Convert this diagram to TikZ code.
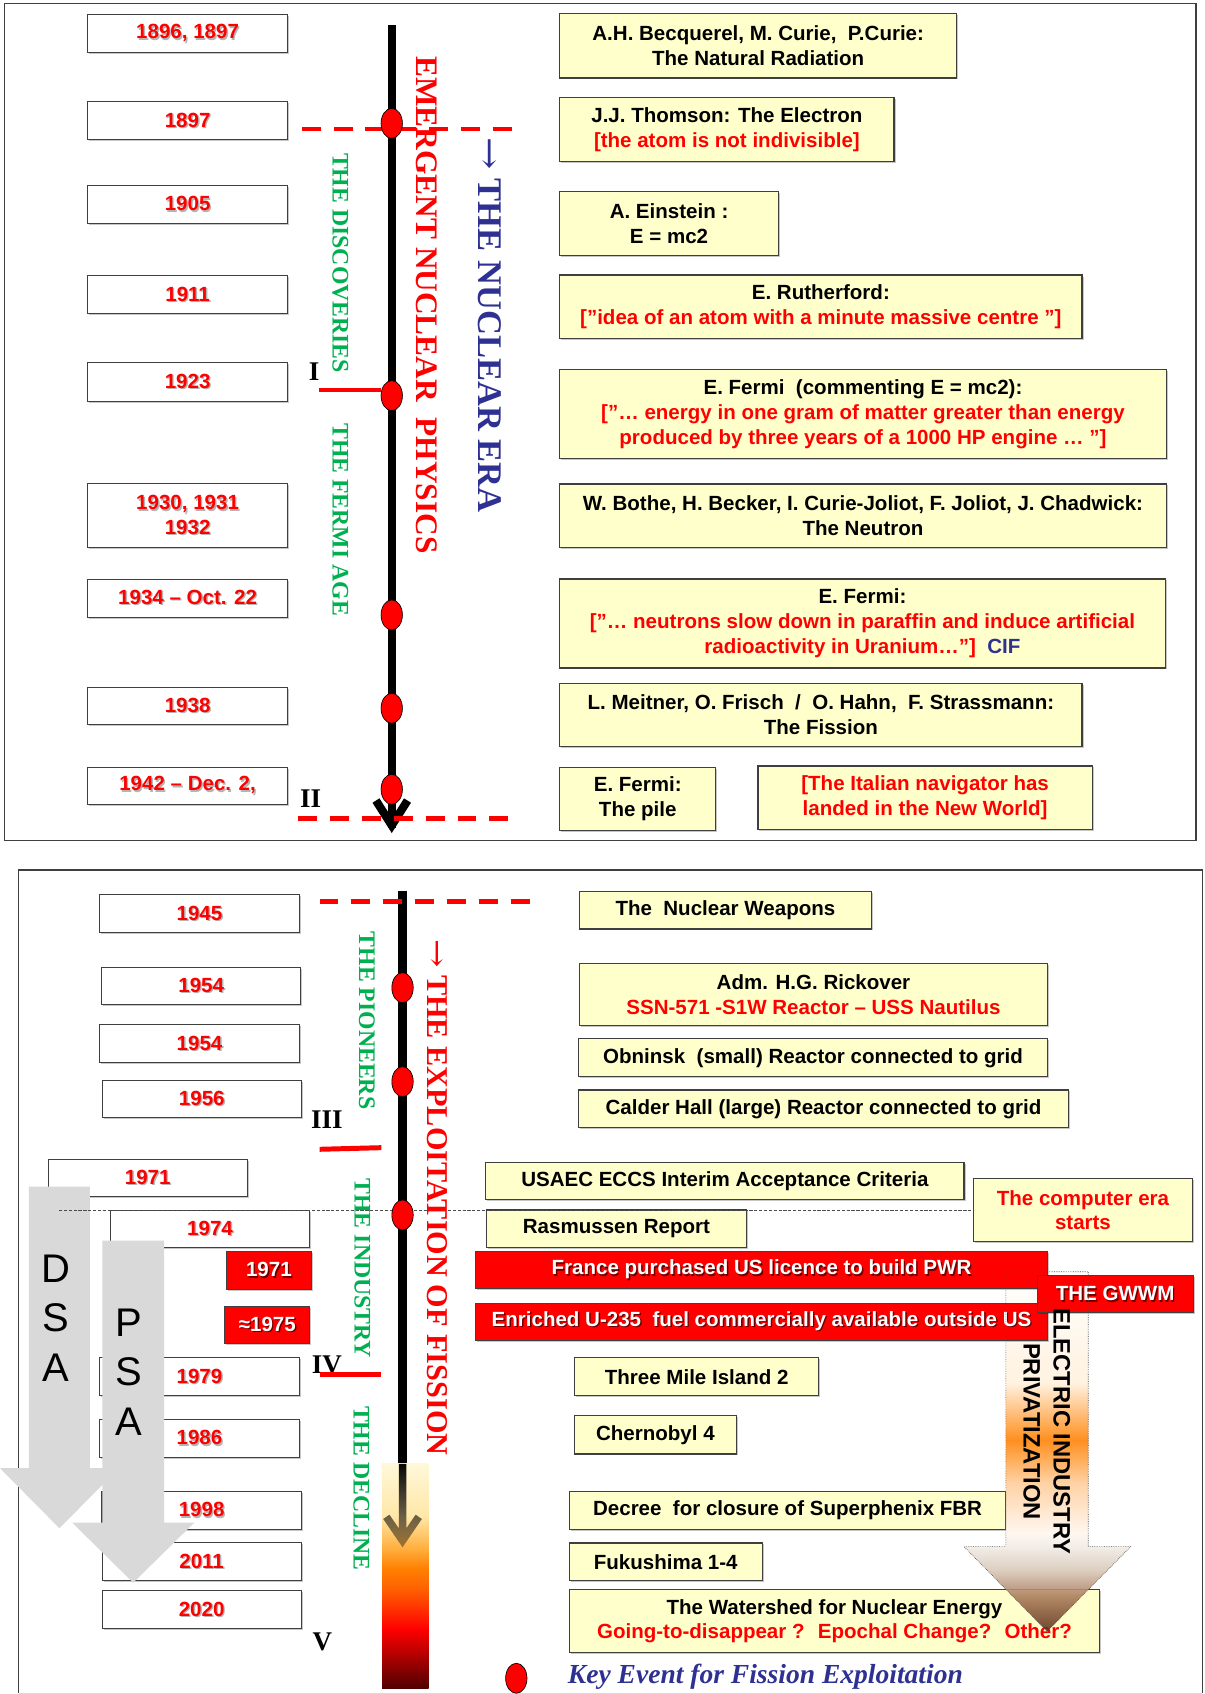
\documentclass[tikz,border=0pt]{standalone}
\usepackage{fontspec}
\setmainfont{Liberation Serif}
\newfontfamily\lsans{Liberation Sans}
\newfontfamily\lserif{Liberation Serif}
\newfontfamily\djs{DejaVu Serif}
\usetikzlibrary{shapes.geometric,fadings,shadows}
\definecolor{yfill}{HTML}{FFFFCC}
\definecolor{bgray}{HTML}{3F3F3F}
\definecolor{gtext}{HTML}{00B050}
\definecolor{navy}{HTML}{2E3192}
\definecolor{shg}{HTML}{B4B4B4}
\definecolor{rshd}{HTML}{700000}
\definecolor{pgrey}{HTML}{D9D9D9}
% bar shading colours
\definecolor{ba}{HTML}{500000}
\definecolor{bb}{HTML}{C00000}
\definecolor{bc}{HTML}{FF0000}
\definecolor{bd}{HTML}{FF2000}
\definecolor{be}{HTML}{FF6000}
\definecolor{bf}{HTML}{FF8000}
\definecolor{bg}{HTML}{FFB040}
\definecolor{bh}{HTML}{FFE7A8}
\definecolor{bi}{HTML}{FFF8D8}
% arrow shading colours
\definecolor{aa}{HTML}{5A2E18}
\definecolor{ab}{HTML}{A87858}
\definecolor{ac}{HTML}{D8C8B8}
\definecolor{ad}{HTML}{F0EAE4}
\definecolor{ae}{HTML}{FFF6EE}
\definecolor{af}{HTML}{FFCC99}
\definecolor{ag}{HTML}{FF8000}
\definecolor{ah}{HTML}{FFF0DC}
\definecolor{ai}{HTML}{FFFFFF}
\pgfdeclareverticalshading{barshade}{100bp}{color(0bp)=(ba); color(25bp)=(ba); color(33.4bp)=(bb); color(38.2bp)=(bc); color(41.1bp)=(bd); color(47.1bp)=(be); color(51.7bp)=(bf); color(56.3bp)=(bg); color(63.3bp)=(bh); color(75bp)=(bi); color(100bp)=(bi)}
\pgfdeclareverticalshading{arrshade}{100bp}{color(0bp)=(aa); color(25bp)=(aa); color(29.8bp)=(ab); color(33.56bp)=(ac); color(36.71bp)=(ad); color(38.67bp)=(ae); color(45.58bp)=(af); color(51.58bp)=(ag); color(59.54bp)=(ah); color(75bp)=(ai); color(100bp)=(ai)}
\tikzfading[name=linefade, top color=transparent!0, bottom color=transparent!62]
\newcommand{\bsf}{\lsans\bfseries\fontsize{19}{23}\selectfont}
\newcommand{\shd}[2]{\leavevmode\rlap{\hspace{1.3pt}\raisebox{-1.3pt}{\textcolor{#1}{#2}}}#2}
\newcommand{\rd}[1]{\textcolor{red}{#1}}
\newcommand{\yr}[1]{\shd{shg}{#1}}
\newcommand{\wt}[1]{\shd{rshd}{#1}}
\newcommand{\varr}{{\djs\mdseries\scalebox{1.12}[1]{→}}}
\newcommand{\tlbox}[7]{\node[#2, anchor=north west, minimum width={(#5)-(#3)}, minimum height={(#6)-(#4)}] (#1) at (#3,#4) {#7};}
\begin{document}
\begin{tikzpicture}[x=1pt,y=-1pt,
  bshadow/.style={drop shadow={shadow xshift=1.4pt, shadow yshift=-1.4pt, fill=black, opacity=0.22}},
  ybox/.style={draw=bgray, line width=1.1pt, fill=yfill, inner sep=0pt, align=center, font=\bsf, text=black, bshadow},
  wbox/.style={draw=bgray, line width=1pt, fill=white, inner sep=0pt, align=center, font=\bsf, text=red, bshadow},
  rbox/.style={draw=black!75, line width=1pt, fill=red, inner sep=0pt, align=center, font=\bsf, text=white, bshadow},
  evt/.style={ellipse, draw=black, line width=0.6pt, fill=red, minimum width=19.8pt, minimum height=27.8pt, inner sep=0pt},
  vgreen/.style={rotate=-90, text=gtext, inner sep=0pt, font=\lserif\bfseries\fontsize{22}{26}\selectfont},
  numr/.style={inner sep=0pt, font=\lserif\bfseries\fontsize{25}{30}\selectfont, text=black},
  rdash/.style={red, line width=4.6pt, dash pattern=on 17.5pt off 12pt},
  rtick/.style={red, line width=4.6pt},
  tline/.style={black, line width=7.6pt},
  frm/.style={draw=bgray, line width=1.2pt},
]
\useasboundingbox (0,0) rectangle (1114.5,1568);

% ================= TOP PANEL =================
\draw[frm] (4.3,3) rectangle (1107,778.1);

\coordinate (t1a) at (362.6,23.1);
\coordinate (t1b) at (362.6,766);
\draw[tline] (t1a) -- (t1b);
\draw[tline, line join=miter, miter limit=20] (348,741) -- (362.6,764) -- (377.2,741);

\draw[rdash] (279.3,119.4) -- (478.6,119.4);
\draw[rdash] (276,757.5) -- (474,757.5);

\tlbox{y1}{wbox}{80.3}{13.3}{266}{48.4}{\yr{1896, 1897}}
\tlbox{y2}{wbox}{80.3}{93.8}{266}{129}{\yr{1897}}
\tlbox{y3}{wbox}{80.3}{171.3}{266}{206.4}{\yr{1905}}
\tlbox{y4}{wbox}{80.3}{254.8}{266}{290}{\yr{1911}}
\tlbox{y5}{wbox}{80.3}{335.4}{266}{370.9}{\yr{1923}}
\tlbox{y6}{wbox}{80.3}{447.4}{266}{506.3}{\yr{1930, 1931}\\\yr{1932}}
\tlbox{y7}{wbox}{80.3}{535.6}{266}{570.8}{\yr{1934 – Oct. 22}}
\tlbox{y8}{wbox}{80.3}{635.6}{266}{670.4}{\yr{1938}}
\tlbox{y9}{wbox}{80.3}{709.6}{266}{744.5}{\yr{1942 – Dec. 2,}}

\tlbox{b1}{ybox}{517.5}{12.3}{885}{71.6}{A.H. Becquerel, M. Curie,~ P.Curie:\\The Natural Radiation}
\tlbox{b2}{ybox}{517.5}{89.8}{827}{148.7}{J.J. Thomson: The Electron\\\rd{[the atom is not indivisible]}}
\tlbox{b3}{ybox}{517.5}{176.8}{720}{236}{A. Einstein :\\E = mc2}
\tlbox{b4}{ybox}{517.5}{254}{1001}{313}{E. Rutherford:\\\rd{[”idea of an atom with a minute massive centre ”]}}
\tlbox{b5}{ybox}{517.5}{341.8}{1079}{424.2}{E. Fermi~ (commenting E = mc2):\\\rd{[”… energy in one gram of matter greater than energy}\\\rd{produced by three years of a 1000 HP engine … ”]}}
\tlbox{b6}{ybox}{517.5}{447.4}{1079}{506.3}{W. Bothe, H. Becker, I. Curie-Joliot, F. Joliot, J. Chadwick:\\The Neutron}
\tlbox{b7}{ybox}{517.5}{535.3}{1078}{617.7}{E. Fermi:\\\rd{[”… neutrons slow down in paraffin and induce artificial}\\\rd{radioactivity in Uranium…”]}~ \textcolor{navy}{CIF}}
\tlbox{b8}{ybox}{517.5}{631.9}{1001}{690.5}{L. Meitner, O. Frisch~ /~ O. Hahn,~ F. Strassmann:\\The Fission}
\tlbox{b9}{ybox}{517.5}{709.6}{662}{768.3}{E. Fermi:\\The pile}
\tlbox{b10}{ybox}{701}{708.4}{1010.5}{767.3}{\rd{[The Italian navigator has}\\\rd{landed in the New World]}}

\node[evt] (e1) at (362.6,114.2) {};
\node[evt] (e2) at (362.6,366.2) {};
\node[evt] (e3) at (362.6,569.2) {};
\node[evt] (e4) at (362.6,655.6) {};
\node[evt] (e5) at (362.6,730.6) {};

\coordinate (tk1) at (295.3,361);
\draw[rtick] (tk1) -- (tk1 -| e2.west);

\node[vgreen] (disc) at (315,243.5) {THE DISCOVERIES};
\node[vgreen] (fage) at (315,481) {THE FERMI AGE};
\node[rotate=-90, text=red, inner sep=0pt, font=\lserif\bfseries\fontsize{29}{34}\selectfont] (emerg) at (395,282.3) {EMERGENT NUCLEAR~ PHYSICS};
\node[rotate=-90, text=navy, inner sep=0pt, font=\lserif\bfseries\fontsize{32}{38}\selectfont] (nera) at (453.5,301) {\varr\ THE NUCLEAR ERA};

\node[numr] (r1) at (290.8,344) {I};
\node[numr] (r2) at (287.6,739) {II};

% ================= BOTTOM PANEL =================
\draw[frm] (17.2,1567) -- (17.2,805.3) -- (1113,805.3) -- (1113,1567);
\draw[black!15, line width=1pt] (17.2,1567.2) -- (1113,1567.2);

\coordinate (t2a) at (372.6,824.7);
\coordinate (t2b) at (372.6,1355);
\draw[tline] (t2a) -- (t2b);
\shade[shading=barshade] (353.7,1355) rectangle (396.7,1562.7);
\draw[line width=7pt, line join=miter, miter limit=20, path fading=linefade] (372.6,1355) -- (372.6,1424) (357.6,1404) -- (372.6,1426) -- (387.6,1404);

\draw[rdash] (295.8,834) -- (493,834);

\tlbox{z1}{wbox}{91.9}{827.8}{276.4}{862.7}{\yr{1945}}
\tlbox{z2}{wbox}{93.5}{894.7}{278}{929.3}{\yr{1954}}
\tlbox{z3}{wbox}{92}{948}{276.4}{983}{\yr{1954}}
\tlbox{z4}{wbox}{94}{999.3}{278.5}{1034}{\yr{1956}}
\tlbox{z5}{wbox}{44}{1072.4}{228.4}{1107}{\yr{1971}}
\tlbox{z6}{wbox}{101.5}{1120}{286.3}{1154.5}{\yr{1974}}
\tlbox{z7}{rbox}{209.2}{1157.9}{287.6}{1192.8}{\wt{1971}}
\tlbox{z8}{rbox}{207.6}{1208.5}{286.3}{1243.4}{\wt{≈1975}}
\tlbox{z9}{wbox}{91.9}{1256.3}{276.4}{1291.2}{\yr{1979}}
\tlbox{z10}{wbox}{91.9}{1313.7}{276.4}{1348.3}{\yr{1986}}
\tlbox{z11}{wbox}{93.9}{1380}{278.3}{1415}{\yr{1998}}
\tlbox{z12}{wbox}{94}{1427.6}{278.3}{1462.5}{\yr{2011}}
\tlbox{z13}{wbox}{94}{1472}{278.3}{1507.2}{\yr{2020}}

\tlbox{c1}{ybox}{535.8}{824.4}{806}{859.3}{The~ Nuclear Weapons}
\tlbox{c2}{ybox}{535.8}{891}{969}{949}{Adm. H.G. Rickover\\\rd{SSN-571 -S1W Reactor – USS Nautilus}}
\tlbox{c3}{ybox}{535}{961}{969}{996.2}{Obninsk~ (small) Reactor connected to grid}
\tlbox{c4}{ybox}{535}{1008.3}{988.4}{1043.4}{Calder Hall (large) Reactor connected to grid}
\tlbox{c5}{ybox}{449}{1075.6}{891.8}{1110}{USAEC ECCS Interim Acceptance Criteria}
\tlbox{c6}{ybox}{449.9}{1119.4}{690.2}{1154.5}{Rasmussen Report}
\tlbox{c7}{ybox}{900.6}{1090.6}{1103.1}{1148.7}{\rd{The computer era}\\\rd{starts}}
\tlbox{c10}{ybox}{531.3}{1256.3}{757.4}{1291.2}{Three Mile Island 2}
\tlbox{c11}{ybox}{531.3}{1310}{680.9}{1345.2}{Chernobyl 4}
\tlbox{c12}{ybox}{526.4}{1379.8}{930.5}{1415}{Decree~ for closure of Superphenix FBR}
\tlbox{c13}{ybox}{526.4}{1427.6}{704.9}{1462.7}{Fukushima 1-4}
\tlbox{c14}{ybox}{526.4}{1471}{1017.3}{1529.1}{The Watershed for Nuclear Energy\\\rd{Going-to-disappear ?~ Epochal Change?~ Other?}}

% big privatization arrow
\shade[shading=arrshade, opacity=0.88] (931,1177.1) -- (1007.3,1177.1) -- (1007.3,1431.6) -- (1046.5,1431.6) -- (969.2,1510) -- (892.3,1431.6) -- (931,1431.6) -- cycle;

\tlbox{c8}{rbox}{439.7}{1157.6}{969}{1192.5}{\wt{France purchased US licence to build PWR}}
\tlbox{c9}{rbox}{439.7}{1205.7}{969}{1240.3}{\wt{Enriched U-235~ fuel commercially available outside US}}
\tlbox{gw}{rbox}{959.4}{1180.5}{1104}{1214.7}{\wt{THE GWWM}}

\draw[black!70, line width=0.6pt, densely dotted] (931,1177.1) -- (1007.3,1177.1) -- (1007.3,1431.6) -- (1046.5,1431.6) -- (969.2,1510) -- (892.3,1431.6) -- (931,1431.6) -- cycle;
\node[rotate=-90, align=center, inner sep=0pt, font=\lsans\bfseries\fontsize{22}{27.7}\selectfont] (eip) at (968.9,1325) {ELECTRIC INDUSTRY\\PRIVATIZATION};

% DSA / PSA arrows
\fill[pgrey] (26.8,1098.4) -- (83.3,1098.4) -- (83.3,1359) -- (110,1359) -- (55,1414.6) -- (0,1359) -- (26.8,1359) -- cycle;
\fill[pgrey] (94.7,1148.4) -- (151.8,1148.4) -- (151.8,1409.4) -- (179.8,1409.4) -- (123.3,1465) -- (66.8,1409.4) -- (94.7,1409.4) -- cycle;
\node[align=center, inner sep=0pt, font=\lsans\fontsize{37}{45.8}\selectfont] (dsa) at (52,1219.8) {D\\S\\A};
\node[align=center, inner sep=0pt, font=\lsans\fontsize{37}{46}\selectfont] (psa) at (119,1270.1) {P\\S\\A};

\draw[black!70, line width=0.8pt, dash pattern=on 3pt off 1.5pt] (54.6,1120) -- (c7.west |- 0,1120);

\node[evt] (f1) at (372.6,914.2) {};
\node[evt] (f2) at (372.6,1001.2) {};
\node[evt] (f3) at (372.6,1124.6) {};

\node[vgreen] (pion) at (339.5,944.6) {THE PIONEERS};
\node[vgreen] (indu) at (335.5,1174) {THE INDUSTRY};
\node[vgreen] (decl) at (334.5,1377.6) {THE DECLINE};
\node[rotate=-90, text=red, inner sep=0pt, font=\lserif\bfseries\fontsize{28}{33}\selectfont] (expl) at (405,1108.2) {\varr\ THE EXPLOITATION OF FISSION};

\node[numr] (r3) at (302.5,1036.7) {III};
\node[numr] (r4) at (302.5,1263.5) {IV};
\node[numr] (r5) at (298.5,1519.5) {V};
\draw[rtick] (295.9,1063.8) -- (353,1062.3);
\draw[rtick] (296,1272) -- (353,1272);

% legend
\node[evt] (kevo) at (477.9,1553.4) {};
\node[anchor=base west, inner sep=0pt, text=navy, font=\lserif\bfseries\itshape\fontsize{25.5}{30}\selectfont] (kev) at (525.5,1558) {Key Event for Fission Exploitation};
\end{tikzpicture}
\end{document}
